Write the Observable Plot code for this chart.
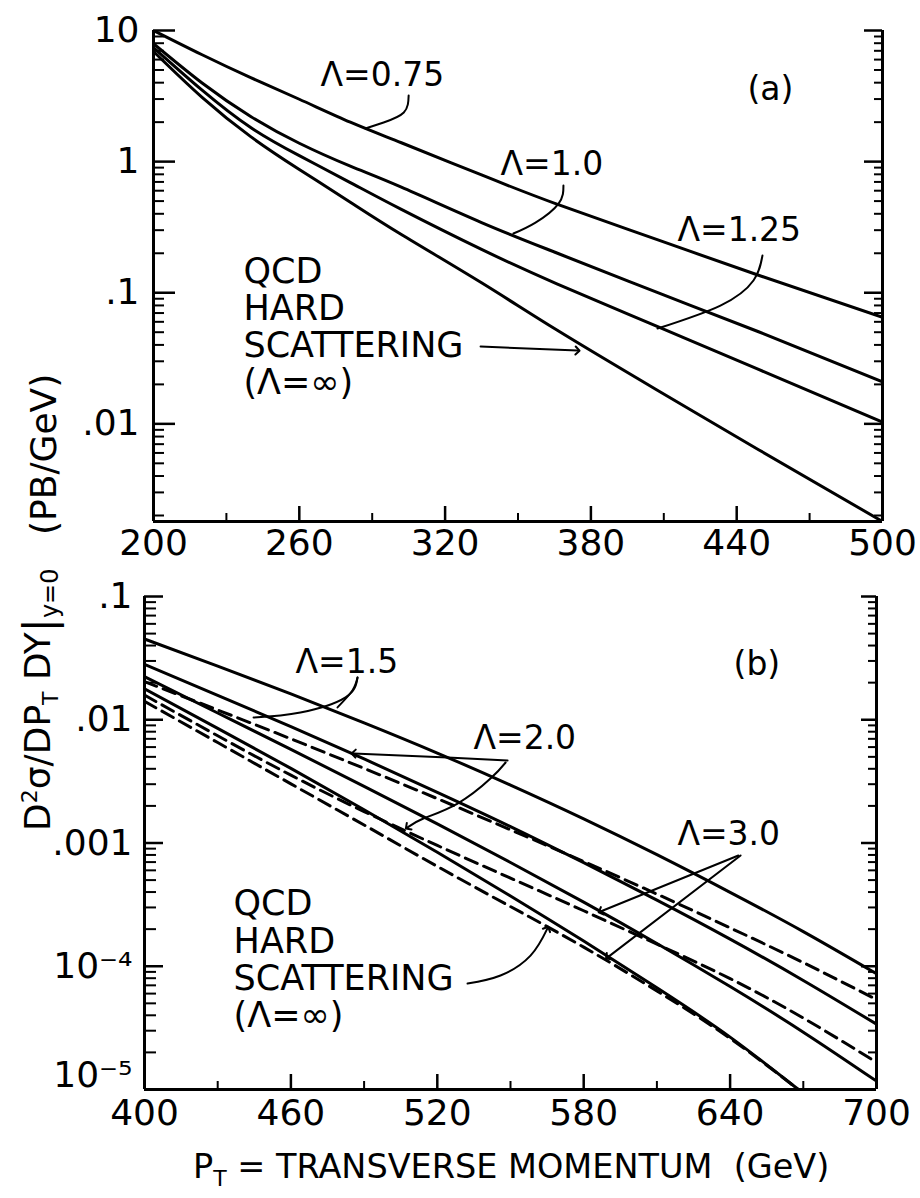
<!DOCTYPE html>
<html><head><meta charset="utf-8">
<script src="https://cdn.jsdelivr.net/npm/d3@7"></script>
<script src="https://cdn.jsdelivr.net/npm/@observablehq/plot@0.6"></script>
<style>
html,body{margin:0;padding:0;background:#fff;}
#fig{position:relative;width:920px;height:1198px;background:#fff;overflow:hidden;font-family:"DejaVu Sans",sans-serif;}
#pa{position:absolute;left:0;top:0;}
#pb{position:absolute;left:0;top:575px;}
#ann{position:absolute;left:0;top:0;}
</style></head><body>
<div id="fig">
<div id="pa"></div>
<div id="pb"></div>
<svg id="ann" width="920" height="1198" xmlns="http://www.w3.org/2000/svg" font-family="DejaVu Sans" fill="#000">
  <text transform="translate(50,831) rotate(-90)" font-size="36" style="white-space:pre">D<tspan dy="-13" font-size="22">2</tspan><tspan dy="13">σ/DP</tspan><tspan dy="8" font-size="22">T</tspan><tspan dy="-8"> DY</tspan><tspan dy="4" font-size="42">|</tspan><tspan dy="4" font-size="24">y=0</tspan></text>
  <text transform="translate(56,535) rotate(-90)" font-size="36">(PB/GeV)</text>
  <text x="193" y="1178" font-size="33.5" style="white-space:pre">P<tspan dy="8" font-size="22">T</tspan><tspan dy="-8"> = TRANSVERSE MOMENTUM  (GeV)</tspan></text>
</svg>
</div>
<script>
// ---------- Panel (a) data ----------
const xA = [200, 220, 240, 260, 281, 302, 335, 366, 407, 449, 500];
const lam075A = [10, 6.53, 4.37, 2.99, 2.0, 1.393, 0.791, 0.474, 0.255, 0.136, 0.0649];
const lam100A = [7.94, 3.98, 2.21, 1.38, 0.923, 0.638, 0.343, 0.201, 0.101, 0.0504, 0.0209];
const lam125A = [7.41, 3.51, 1.82, 1.11, 0.692, 0.432, 0.214, 0.117, 0.0556, 0.026, 0.0103];
const qcdA    = [6.92, 3.09, 1.55, 0.871, 0.49, 0.278, 0.119, 0.0519, 0.0182, 0.00635, 0.0018];

const xDomA = [200, 500];
const yDomA = [0.0018, 10];
const decA = [10, 1, 0.1, 0.01];
const decLabelsA = ["10", "1", ".1", ".01"];
const xMajorA = [200, 260, 320, 380, 440, 500];
const xMinorA = [230, 290, 350, 410, 470];

const labelsA = [
  {text: "Λ=0.75", x: 268.7, y: 4.54},
  {text: "Λ=1.0", x: 342.8, y: 0.95},
  {text: "Λ=1.25", x: 415.6, y: 0.298},
  {text: "(a)", x: 444.4, y: 3.55}
];
const qcdTextA = [{text: "QCD\nHARD\nSCATTERING\n(Λ=∞)", x: 237.0, y: 0.0552}];
const lead075 = [[305, 3.19], [303, 2.37], [294.7, 1.99], [287.2, 1.79]];
const lead100 = [[368.7, 0.657], [366.7, 0.479], [357.2, 0.343], [348.1, 0.283]];
const lead125 = [[450.6, 0.192], [446.9, 0.124], [433.3, 0.0798], [407.4, 0.0533]];
const leadQcdA = [[334.6, 0.0389], [374.5, 0.0362]];

// ---------- Panel (b) data ----------
const xB = [400, 430, 460, 490, 520, 550, 580, 610, 640, 670, 700];
const lam15Solid = [0.0452, 0.0272, 0.0162, 0.00944, 0.00537, 0.00295, 0.00157, 8.04e-4, 3.98e-4, 1.91e-4, 8.7e-5];
const lam15Dash  = [0.0204, 0.0120, 0.0070, 0.00403, 0.00229, 0.00128, 7.08e-4, 3.85e-4, 2.05e-4, 1.07e-4, 5.37e-5];
const lam20Solid = [0.0282, 0.0158, 0.00881, 0.00481, 0.00258, 0.00136, 6.92e-4, 3.44e-4, 1.66e-4, 7.67e-5, 3.39e-5];
const lam20Dash  = [0.01585, 0.00741, 0.00355, 0.0018, 9.55e-4, 5.19e-4, 2.82e-4, 1.51e-4, 7.94e-5, 3.8e-5, 1.66e-5];
const lam30Solid = [0.0224, 0.01135, 0.00575, 0.00288, 0.00143, 6.95e-4, 3.31e-4, 1.53e-4, 6.84e-5, 2.92e-5, 1.17e-5];
const lam30Dash  = [0.0141, 0.00653, 0.00302, 0.0014, 6.46e-4, 3.05e-4, 1.43e-4, 6.31e-5, 2.6e-5, 9.3e-6, 3.2e-6];
const qcdB       = [0.0178, 0.00851, 0.00403, 0.00186, 8.41e-4, 3.72e-4, 1.60e-4, 6.68e-5, 2.66e-5, 9.3e-6, 3.2e-6];

const xDomB = [400, 700];
const yDomB = [1e-5, 0.1];
const decB = [0.1, 0.01, 0.001, 1e-4, 1e-5];
const decLabelsB = [".1", ".01", ".001", "10⁻⁴", "10⁻⁵"];
const xMajorB = [400, 460, 520, 580, 640, 700];
const xMinorB = [430, 490, 550, 610, 670];

const labelsB = [
  {text: "Λ=1.5", x: 461.9, y: 0.0291},
  {text: "Λ=2.0", x: 534.8, y: 0.00705},
  {text: "Λ=3.0", x: 618.4, y: 0.00117},
  {text: "(b)", x: 641.4, y: 0.0281}
];
const qcdTextB = [{text: "QCD\nHARD\nSCATTERING\n(Λ=∞)", x: 436.5, y: 1.135e-4}];
const lead15a = [[487.3, 0.0220], [485.2, 0.01725], [479.1, 0.01259]];
const lead15b = [[487.3, 0.0220], [482.4, 0.0152], [463.9, 0.01146], [444.7, 0.01042]];
const lead20a = [[548.8, 0.00467], [524.2, 0.00494], [485.7, 0.00532]];
const lead20b = [[548.0, 0.0045], [541.8, 0.00333], [528.3, 0.00209], [514.3, 0.00158], [507.8, 0.00134]];
const lead30a = [[643.4, 7.92e-4], [586.9, 2.78e-4]];
const lead30b = [[644.3, 7.92e-4], [589.8, 1.18e-4]];
const leadQcdB = [[532.4, 7.24e-5], [545.9, 8.41e-5], [558.2, 1.22e-4], [565.1, 2.02e-4]];

// ---------- helpers ----------
const FONT = "DejaVu Sans";
const series = (xs, ys) => xs.map((x, i) => ({x, y: ys[i]}));
const pts = (arr) => arr.map(([x, y]) => ({x, y}));
function minorTicks(lo, hi) {
  const out = [];
  for (let e = Math.floor(Math.log10(lo)); e <= Math.ceil(Math.log10(hi)); e++) {
    for (let k = 2; k <= 9; k++) {
      const v = k * Math.pow(10, e);
      if (v >= lo * 0.999 && v <= hi * 1.001) out.push(v);
    }
  }
  return out;
}
const curveOpts = {x: "x", y: "y", curve: "natural", stroke: "#000", strokeWidth: 3, clip: true};
const dashOpts = {...curveOpts, strokeDasharray: "13,7"};
const leadOpts = {x: "x", y: "y", curve: "natural", stroke: "#000", strokeWidth: 2};
const leadArrow = {...leadOpts, markerEnd: "arrow"};

// inward tick marks drawn as short rules (pixel insets from the frame edge)
function frameMarks(xDom, yDom, dec, decLabels, xMajor, xMinor, pw, ph, opts) {
  const labMap = new Map(dec.map((d, i) => [d, decLabels[i]]));
  const minor = minorTicks(yDom[0], yDom[1]);
  const mainDec = dec.filter(d => d !== yDom[0]);
  const bottomDec = dec.filter(d => d === yDom[0]);
  const marks = [
    Plot.ruleY(dec, {y: d => d, insetRight: pw - opts.lMaj, stroke: "#000", strokeWidth: 2.5}),
    Plot.ruleY(minor, {y: d => d, insetRight: pw - opts.lMin, stroke: "#000", strokeWidth: 2}),
    Plot.ruleY(dec, {y: d => d, insetLeft: pw - opts.rMaj, stroke: "#000", strokeWidth: 2.5}),
    Plot.ruleY(minor, {y: d => d, insetLeft: pw - opts.rMin, stroke: "#000", strokeWidth: 2}),
    Plot.ruleX(xMajor.slice(1, -1), {x: d => d, insetTop: ph - 15, stroke: "#000", strokeWidth: 2.5}),
    Plot.ruleX(xMinor, {x: d => d, insetTop: ph - 8, stroke: "#000", strokeWidth: 2}),
    Plot.ruleX([xDom[0], xDom[1]], {stroke: "#000", strokeWidth: 3}),
    Plot.ruleY([yDom[0]], {stroke: "#000", strokeWidth: 3}),
    Plot.axisY({ticks: mainDec, anchor: "left", tickSize: 0, tickPadding: opts.yPad, tickFormat: d => labMap.get(d), fontSize: 36, label: null}),
    Plot.axisX({ticks: xMajor, anchor: "bottom", tickSize: 0, tickPadding: opts.xPad, tickFormat: d => String(d), fontSize: 36, label: null})
  ];
  if (bottomDec.length) {
    marks.push(Plot.axisY({ticks: bottomDec, anchor: "left", tickSize: 0, tickPadding: opts.yPad, dy: -14, tickFormat: d => labMap.get(d), fontSize: 36, label: null}));
  }
  return marks;
}

const styleObj = {fontFamily: FONT, fontSize: "36px", background: "#fff", color: "#000", overflow: "visible"};

const A = {width: 920, height: 575, ml: 153, mr: 38, mt: 30, mb: 54};
const plotA = Plot.plot({
  width: A.width, height: A.height,
  marginLeft: A.ml, marginRight: A.mr, marginTop: A.mt, marginBottom: A.mb,
  style: styleObj,
  x: {domain: xDomA},
  y: {type: "log", domain: yDomA},
  marks: [
    ...frameMarks(xDomA, yDomA, decA, decLabelsA, xMajorA, xMinorA, A.width - A.ml - A.mr, A.height - A.mt - A.mb,
      {yPad: 14, xPad: 8, lMaj: 22, lMin: 11, rMaj: 18, rMin: 8}),
    Plot.line(series(xA, lam075A), curveOpts),
    Plot.line(series(xA, lam100A), curveOpts),
    Plot.line(series(xA, lam125A), curveOpts),
    Plot.line(series(xA, qcdA), curveOpts),
    Plot.line(pts(lead075), leadOpts),
    Plot.line(pts(lead100), leadOpts),
    Plot.line(pts(lead125), leadOpts),
    Plot.line(pts(leadQcdA), leadArrow),
    Plot.text(labelsA, {x: "x", y: "y", text: "text", textAnchor: "start", fontSize: 33, fill: "#000"}),
    Plot.text(qcdTextA, {x: "x", y: "y", text: "text", textAnchor: "start", lineAnchor: "middle", lineHeight: 1.066, fontSize: 35, fill: "#000"})
  ]
});
document.getElementById("pa").appendChild(plotA);

const B = {width: 920, height: 623, ml: 144, mr: 44, mt: 21, mb: 109};
const plotB = Plot.plot({
  width: B.width, height: B.height,
  marginLeft: B.ml, marginRight: B.mr, marginTop: B.mt, marginBottom: B.mb,
  style: styleObj,
  x: {domain: xDomB},
  y: {type: "log", domain: yDomB},
  marks: [
    ...frameMarks(xDomB, yDomB, decB, decLabelsB, xMajorB, xMinorB, B.width - B.ml - B.mr, B.height - B.mt - B.mb,
      {yPad: 12, xPad: 10, lMaj: 19, lMin: 12, rMaj: 15, rMin: 8}),
    Plot.line(series(xB, lam15Solid), curveOpts),
    Plot.line(series(xB, lam20Solid), curveOpts),
    Plot.line(series(xB, lam30Solid), curveOpts),
    Plot.line(series(xB, qcdB), curveOpts),
    Plot.line(series(xB, lam15Dash), dashOpts),
    Plot.line(series(xB, lam20Dash), dashOpts),
    Plot.line(series(xB, lam30Dash), dashOpts),
    Plot.line(pts(lead15a), leadOpts),
    Plot.line(pts(lead15b), leadOpts),
    Plot.line(pts(lead20a), leadArrow),
    Plot.line(pts(lead20b), leadArrow),
    Plot.line(pts(lead30a), leadArrow),
    Plot.line(pts(lead30b), leadArrow),
    Plot.line(pts(leadQcdB), leadArrow),
    Plot.text(labelsB, {x: "x", y: "y", text: "text", textAnchor: "start", fontSize: 33, fill: "#000"}),
    Plot.text(qcdTextB, {x: "x", y: "y", text: "text", textAnchor: "start", lineAnchor: "middle", lineHeight: 1.066, fontSize: 35, fill: "#000"})
  ]
});
document.getElementById("pb").appendChild(plotB);
</script>
</body></html>
